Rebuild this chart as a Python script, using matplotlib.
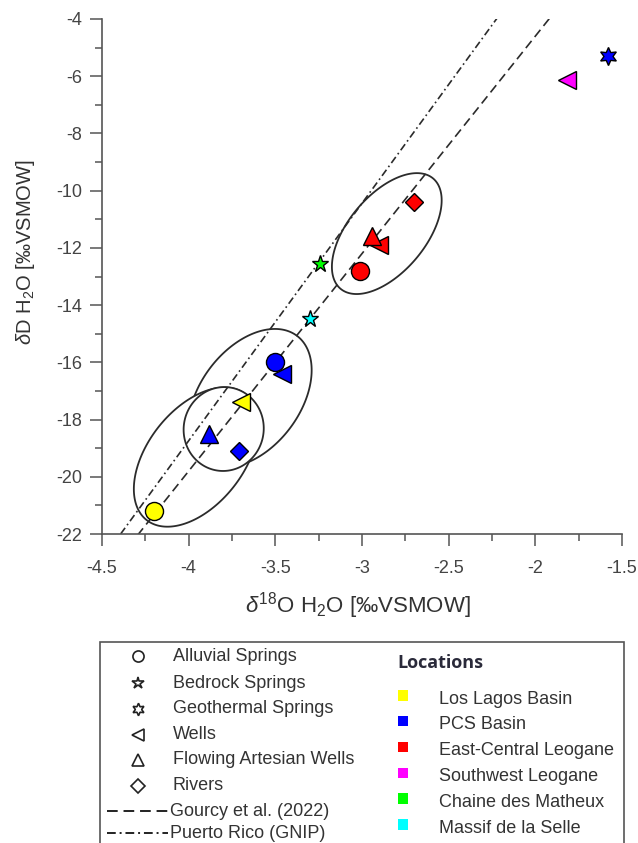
import numpy as np
import matplotlib
matplotlib.use("Agg")
import matplotlib.pyplot as plt
from matplotlib.lines import Line2D
from matplotlib.patches import Rectangle
from matplotlib.ticker import MultipleLocator

plt.rcParams['font.family'] = ['Liberation Sans', 'DejaVu Sans']
plt.rcParams['mathtext.fontset'] = 'custom'
plt.rcParams['mathtext.rm'] = 'Liberation Sans'
plt.rcParams['mathtext.it'] = 'Liberation Sans:italic'

# samples
d18O = [-4.20, -3.70, -3.88, -3.71, -3.50, -3.46, -3.30, -3.24,
        -3.01, -2.94, -2.90, -2.70, -1.82, -1.58]
dD = [-21.2, -17.4, -18.5, -19.1, -16.0, -16.4, -14.5, -12.55,
      -12.8, -11.6, -11.9, -10.4, -6.15, -5.3]
sample_type = ['Alluvial Springs', 'Wells', 'Flowing Artesian Wells', 'Rivers',
               'Alluvial Springs', 'Wells', 'Bedrock Springs', 'Bedrock Springs',
               'Alluvial Springs', 'Flowing Artesian Wells', 'Wells', 'Rivers',
               'Wells', 'Geothermal Springs']
sample_loc = ['Los Lagos Basin', 'Los Lagos Basin', 'PCS Basin', 'PCS Basin',
              'PCS Basin', 'PCS Basin', 'Massif de la Selle', 'Chaine des Matheux',
              'East-Central Leogane', 'East-Central Leogane', 'East-Central Leogane',
              'East-Central Leogane', 'Southwest Leogane', 'PCS Basin']

types = ['Alluvial Springs', 'Bedrock Springs', 'Geothermal Springs', 'Wells',
         'Flowing Artesian Wells', 'Rivers']
markers = ['o', '*', (6, 1, 0), '<', '^', 'D']
msizes = [13, 12.5, 13, 12.5, 12.5, 9.5]

locations = ['Los Lagos Basin', 'PCS Basin', 'East-Central Leogane',
             'Southwest Leogane', 'Chaine des Matheux', 'Massif de la Selle']
loc_colors = ['#ffff00', '#0000ff', '#ff0000', '#ff00ff', '#00ff00', '#00ffff']

# meteoric water lines: slope, intercept
gourcy = [7.6, 10.6]
gnip_pr = [8.3, 14.46]

# cluster ellipses: centre (d18O, dD), semi-axes (pixels), angle (deg)
ell_centres = [(-3.646, -17.25), (-3.958, -19.31), (-3.798, -18.33), (-2.857, -11.50)]
ell_axes = [(78, 50), (80, 48), (42, 40), (72, 38.5)]
ell_angles = [53, 52, 80, 50]

fig = plt.figure(figsize=(6.38, 8.43), dpi=100)
ax = fig.add_axes([102 / 638, 0.3665, 520 / 638, 0.611])
ax.set_xlim(-4.5, -1.5)
ax.set_ylim(-22, -4)

kx = ax.bbox.width / 3.0
ky = ax.bbox.height / 18.0
t = np.linspace(0, 2 * np.pi, 300)
for i, (cx, cy) in enumerate(ell_centres):
    a, b = ell_axes[i]
    th = np.radians(ell_angles[i])
    ex = a * np.cos(t) * np.cos(th) - b * np.sin(t) * np.sin(th)
    ey = a * np.cos(t) * np.sin(th) + b * np.sin(t) * np.cos(th)
    z = 1.5 if i == 2 else 1
    ax.fill(cx + ex / kx, cy + ey / ky, facecolor='white', edgecolor='#2b2b2b',
            lw=1.3, zorder=z)

xl = np.linspace(-4.5, -1.5, 200)
ax.plot(xl, gourcy[0] * xl + gourcy[1], color='#2b2b2b', lw=1.2,
        dashes=(5.5, 3), zorder=2)
ax.plot(xl, gnip_pr[0] * xl + gnip_pr[1], color='#2b2b2b', lw=1.2,
        dashes=(4.5, 2, 1, 2), zorder=2)

for x, y, st, lc in zip(d18O, dD, sample_type, sample_loc):
    k = types.index(st)
    z = 3 if st == 'Wells' else 4
    ax.plot(x, y, linestyle='none', marker=markers[k], ms=msizes[k],
            mfc=loc_colors[locations.index(lc)], mec='black', mew=1.0, zorder=z)

ax.spines['top'].set_visible(False)
ax.spines['right'].set_visible(False)
for s in ['left', 'bottom']:
    ax.spines[s].set_color('#555555')
    ax.spines[s].set_linewidth(1.2)
ax.set_xticks([-4.5, -4, -3.5, -3, -2.5, -2, -1.5])
ax.set_xticklabels(['-4.5', '-4', '-3.5', '-3', '-2.5', '-2', '-1.5'])
ax.set_yticks([-22, -20, -18, -16, -14, -12, -10, -8, -6, -4])
ax.set_yticklabels(['-22', '-20', '-18', '-16', '-14', '-12', '-10', '-8', '-6', '-4'])
ax.xaxis.set_minor_locator(MultipleLocator(0.25))
ax.yaxis.set_minor_locator(MultipleLocator(1))
ax.tick_params(which='major', length=8.5, width=1.1, color='#555555',
               labelsize=13, labelcolor='#444444')
ax.tick_params(axis='x', which='major', pad=10)
ax.tick_params(axis='y', which='major', pad=6)
ax.tick_params(which='minor', length=5, width=1.1, color='#555555')
ax.set_xlim(-4.5, -1.5)
ax.set_ylim(-22, -4)

ax.set_xlabel(r'$\delta^{18}$O H$_2$O [‰VSMOW]', fontsize=16, color='#333333')
ax.set_ylabel(r'$\delta$D H$_2$O [‰VSMOW]', fontsize=14.5, color='#333333')
ax.xaxis.set_label_coords(0.493, -0.108)
ax.yaxis.set_label_coords(-0.125, 0.548)

# legend box
W, H = 638.0, 843.0
fig.add_artist(Rectangle((100 / W, -0.01), 524 / W, 0.01 + 1 - 641.5 / H,
                         transform=fig.transFigure, facecolor='white',
                         edgecolor='#555555', lw=1.2))

rows = [656.3, 683, 708.5, 734.5, 760, 786]
leg_ms = [8, 9, 9, 8, 8, 7]
for k, name in enumerate(types):
    y = 1 - rows[k] / H
    fig.add_artist(Line2D([138 / W], [y], marker=markers[k], ms=leg_ms[k],
                          mfc='white', mec='#222222', mew=1.2, linestyle='none',
                          transform=fig.transFigure))
    fig.text(172.7 / W, y, name, fontsize=13, color='#333333', va='center')

line_rows = [811, 833]
line_names = ['Gourcy et al. (2022)', 'Puerto Rico (GNIP)']
line_dash = [(5.5, 3), (4.5, 2, 1, 2)]
for r, name, d in zip(line_rows, line_names, line_dash):
    y = 1 - r / H
    fig.add_artist(Line2D([107 / W, 168 / W], [y, y], color='#222222', lw=1.4,
                          dashes=d, transform=fig.transFigure))
    fig.text(170 / W, y, name, fontsize=13, color='#333333', va='center')

fig.text(397.6 / W, 1 - 663 / H, 'Locations', fontsize=13, fontweight='bold',
         family=['Open Sans', 'DejaVu Sans'], color='#2a2a3a', va='center')
loc_rows = [699, 724.5, 750.5, 776.7, 802.4, 828.3]
for r, name, c in zip(loc_rows, locations, loc_colors):
    y = 1 - r / H
    fig.add_artist(Rectangle((397.6 / W, y - 1.5 / H), 10.5 / W, 10.5 / H,
                             transform=fig.transFigure, facecolor=c,
                             edgecolor='none'))
    fig.text(439 / W, y, name, fontsize=13, color='#333333', va='center')

fig.savefig('out.png', dpi=100)
